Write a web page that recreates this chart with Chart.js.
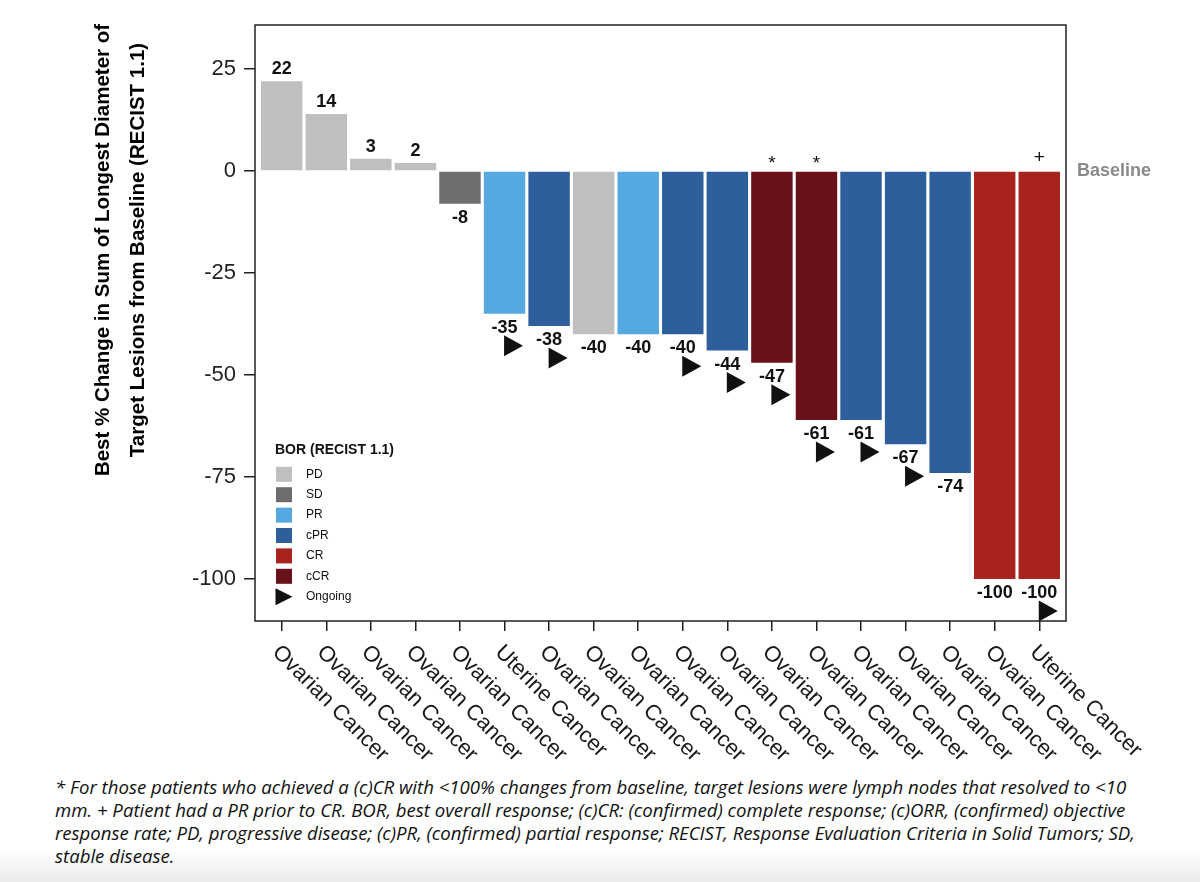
<!DOCTYPE html>
<html>
<head>
<meta charset="utf-8">
<script src="https://cdn.jsdelivr.net/npm/chart.js@4.4.0/dist/chart.umd.min.js"></script>
<style>
html, body { margin: 0; padding: 0; background: #fff; }
#wrap { position: relative; width: 1200px; height: 882px; overflow: hidden;
  background: linear-gradient(to bottom, #fff 0, #fff 850px, #ebebeb 882px); }
#chart { position: absolute; left: 0; top: 0; }
#note { position: absolute; left: 55px; top: 775px; font-family: "Open Sans", Lato, sans-serif;
  font-style: italic; font-size: 18.6px; line-height: 23px; color: #111; white-space: nowrap; }
</style>
</head>
<body>
<div id="wrap">
  <canvas id="chart" width="1200" height="770"></canvas>
  <div id="note">* For those patients who achieved a (c)CR with &lt;100% changes from baseline, target lesions were lymph nodes that resolved to &lt;10<br>mm. + Patient had a PR prior to CR. BOR, best overall response; (c)CR: (confirmed) complete response; (c)ORR, (confirmed) objective<br>response rate; PD, progressive disease; (c)PR, (confirmed) partial response; RECIST, Response Evaluation Criteria in Solid Tumors; SD,<br>stable disease.</div>
</div>
<script>
// data
const categories = ['Ovarian Cancer', 'Ovarian Cancer', 'Ovarian Cancer', 'Ovarian Cancer', 'Ovarian Cancer',
    'Uterine Cancer', 'Ovarian Cancer', 'Ovarian Cancer', 'Ovarian Cancer', 'Ovarian Cancer', 'Ovarian Cancer',
    'Ovarian Cancer', 'Ovarian Cancer', 'Ovarian Cancer', 'Ovarian Cancer', 'Ovarian Cancer', 'Ovarian Cancer',
    'Uterine Cancer'];
const changes = [22, 14, 3, 2, -8, -35, -38, -40, -40, -40, -44, -47, -61, -61, -67, -74, -100, -100];
const responses = ['PD', 'PD', 'PD', 'PD', 'SD', 'PR', 'cPR', 'PD', 'PR', 'cPR', 'cPR', 'cCR', 'cCR',
    'cPR', 'cPR', 'cPR', 'CR', 'CR'];
const ongoing = [false, false, false, false, false, true, true, false, false, true, true, true, true,
    true, true, false, false, true];
const marks = ['', '', '', '', '', '', '', '', '', '', '', '*', '*', '', '', '', '', '+'];
const yTicks = [25, 0, -25, -50, -75, -100];

// legend
const legendLabels = ['PD', 'SD', 'PR', 'cPR', 'CR', 'cCR'];
const legendColors = ['#bfbfbf', '#6e6e6e', '#56a8e0', '#2e5e9c', '#a8221e', '#69111a'];

const colorOf = r => legendColors[legendLabels.indexOf(r)];
const FONT = '"Liberation Sans", Arial, sans-serif';

function triangle(ctx, cx, cy, w, h) {
    ctx.beginPath();
    ctx.moveTo(cx - w / 2, cy - h / 2);
    ctx.lineTo(cx + w / 2, cy);
    ctx.lineTo(cx - w / 2, cy + h / 2);
    ctx.closePath();
    ctx.fill();
}

// labels, markers, box, legend and axis text
const extras = {
    id: 'extras',
    afterDatasetsDraw(chart) {
        const ctx = chart.ctx;
        const meta = chart.getDatasetMeta(0);
        const zeroY = chart.scales.y.getPixelForValue(0);
        ctx.save();
        ctx.textAlign = 'center';
        ctx.textBaseline = 'middle';
        meta.data.forEach((bar, i) => {
            const v = changes[i];
            ctx.font = 'bold 18px ' + FONT;
            ctx.fillStyle = '#111';
            if (v >= 0) {
                ctx.fillText(String(v), bar.x, bar.y - 12);
            } else {
                ctx.fillText(String(v), bar.x, bar.y + 14);
            }
            if (ongoing[i]) {
                triangle(ctx, bar.x + 9, bar.y + 32, 19, 21);
            }
            if (marks[i]) {
                ctx.font = '19px ' + FONT;
                ctx.textBaseline = 'alphabetic';
                ctx.fillText(marks[i], bar.x, marks[i] === '*' ? zeroY - 2 : zeroY - 8);
                ctx.textBaseline = 'middle';
            }
        });
        ctx.restore();
    },
    afterDraw(chart) {
        const ctx = chart.ctx;
        const a = chart.chartArea;
        const xs = chart.scales.x;
        ctx.save();
        // plot box
        ctx.strokeStyle = '#222';
        ctx.lineWidth = 1.5;
        ctx.strokeRect(a.left, a.top, a.right - a.left, a.bottom - a.top);

        // Baseline label
        ctx.fillStyle = '#8a8a8a';
        ctx.font = 'bold 18px ' + FONT;
        ctx.textAlign = 'left';
        ctx.textBaseline = 'middle';
        ctx.fillText('Baseline', a.right + 11, chart.scales.y.getPixelForValue(0));

        // legend
        const lx = a.left + 21;
        ctx.fillStyle = '#111';
        ctx.font = 'bold 14px ' + FONT;
        ctx.fillText('BOR (RECIST 1.1)', lx - 1, 450);
        ctx.font = '12px ' + FONT;
        legendLabels.forEach((lab, k) => {
            const cy = 474.3 + 20.4 * k;
            ctx.fillStyle = legendColors[k];
            ctx.fillRect(lx, cy - 7.5, 16, 15);
            ctx.fillStyle = '#111';
            ctx.fillText(lab, lx + 30, cy);
        });
        const oy = 474.3 + 20.4 * 6;
        triangle(ctx, lx + 8, oy, 17, 17);
        ctx.fillText('Ongoing', lx + 30, oy);

        // category labels, slanted down to the right
        ctx.font = '22px ' + FONT;
        ctx.fillStyle = '#1a1a1a';
        categories.forEach((c, i) => {
            const x = xs.getPixelForValue(i);
            ctx.save();
            ctx.translate(x - 6, a.bottom + 28);
            ctx.rotate(Math.PI / 4);
            ctx.textAlign = 'left';
            ctx.textBaseline = 'middle';
            ctx.fillText(c, 0, 0);
            ctx.restore();
        });

        // y axis title
        ctx.font = 'bold 20.5px ' + FONT;
        ctx.fillStyle = '#000';
        ctx.textAlign = 'center';
        ctx.textBaseline = 'middle';
        [['Best % Change in Sum of Longest Diameter of', 103],
         ['Target Lesions from Baseline (RECIST 1.1)', 138]].forEach(([t, x]) => {
            ctx.save();
            ctx.translate(x, 250);
            ctx.rotate(-Math.PI / 2);
            ctx.fillText(t, 0, 0);
            ctx.restore();
        });
        ctx.restore();
    }
};

new Chart(document.getElementById('chart'), {
    type: 'bar',
    data: {
        datasets: [{
            label: 'Best % change',
            data: changes.map((v, i) => ({ x: i, y: v })),
            backgroundColor: responses.map(colorOf),
            borderWidth: 0,
            categoryPercentage: 0.93,
            barPercentage: 1
        }]
    },
    options: {
        responsive: false,
        animation: false,
        layout: { padding: { left: 0, right: 134, top: 25, bottom: 0 } },
        plugins: { legend: { display: false }, tooltip: { enabled: false } },
        scales: {
            x: {
                type: 'linear',
                min: -0.6,
                max: 17.6,
                offset: false,
                afterBuildTicks: s => { s.ticks = categories.map((c, i) => ({ value: i })); },
                afterFit: s => { s.height = 149; },
                ticks: { display: false, autoSkip: false },
                grid: { offset: false, drawOnChartArea: false, drawTicks: true, tickLength: 10, color: '#222', lineWidth: 1.5 },
                border: { display: false }
            },
            y: {
                min: -110.3,
                max: 35.8,
                afterBuildTicks: s => { s.ticks = yTicks.map(v => ({ value: v })); },
                afterFit: s => { s.width = 255; },
                ticks: { color: '#222', font: { family: FONT, size: 22 }, padding: 8 },
                grid: { drawOnChartArea: false, drawTicks: true, tickLength: 11, color: '#222', lineWidth: 1.5 },
                border: { display: false }
            }
        }
    },
    plugins: [extras]
});
</script>
</body>
</html>
